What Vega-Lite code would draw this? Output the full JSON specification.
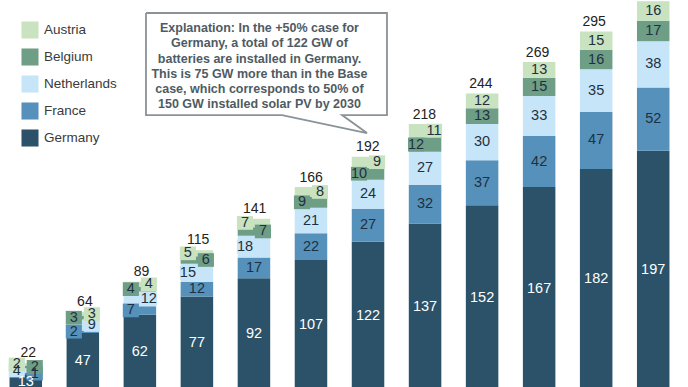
{
  "$schema": "https://vega.github.io/schema/vega-lite/v6.json",
  "width": 679,
  "height": 390,
  "autosize": {"type": "none"},
  "padding": 0,
  "background": "white",
  "config": {"view": {"stroke": null}, "font": "Liberation Sans"},
  "datasets": {
    "seg": [
      {"year": 2019, "country": "Germany", "value": 13}, {"year": 2019, "country": "France", "value": 1}, {"year": 2019, "country": "Netherlands", "value": 4}, {"year": 2019, "country": "Belgium", "value": 2}, {"year": 2019, "country": "Austria", "value": 2},
      {"year": 2020, "country": "Germany", "value": 47}, {"year": 2020, "country": "France", "value": 2}, {"year": 2020, "country": "Netherlands", "value": 9}, {"year": 2020, "country": "Belgium", "value": 3}, {"year": 2020, "country": "Austria", "value": 3},
      {"year": 2021, "country": "Germany", "value": 62}, {"year": 2021, "country": "France", "value": 7}, {"year": 2021, "country": "Netherlands", "value": 12}, {"year": 2021, "country": "Belgium", "value": 4}, {"year": 2021, "country": "Austria", "value": 4},
      {"year": 2022, "country": "Germany", "value": 77}, {"year": 2022, "country": "France", "value": 12}, {"year": 2022, "country": "Netherlands", "value": 15}, {"year": 2022, "country": "Belgium", "value": 6}, {"year": 2022, "country": "Austria", "value": 5},
      {"year": 2023, "country": "Germany", "value": 92}, {"year": 2023, "country": "France", "value": 17}, {"year": 2023, "country": "Netherlands", "value": 18}, {"year": 2023, "country": "Belgium", "value": 7}, {"year": 2023, "country": "Austria", "value": 7},
      {"year": 2024, "country": "Germany", "value": 107}, {"year": 2024, "country": "France", "value": 22}, {"year": 2024, "country": "Netherlands", "value": 21}, {"year": 2024, "country": "Belgium", "value": 9}, {"year": 2024, "country": "Austria", "value": 8},
      {"year": 2025, "country": "Germany", "value": 122}, {"year": 2025, "country": "France", "value": 27}, {"year": 2025, "country": "Netherlands", "value": 24}, {"year": 2025, "country": "Belgium", "value": 10}, {"year": 2025, "country": "Austria", "value": 9},
      {"year": 2026, "country": "Germany", "value": 137}, {"year": 2026, "country": "France", "value": 32}, {"year": 2026, "country": "Netherlands", "value": 27}, {"year": 2026, "country": "Belgium", "value": 12}, {"year": 2026, "country": "Austria", "value": 11},
      {"year": 2027, "country": "Germany", "value": 152}, {"year": 2027, "country": "France", "value": 37}, {"year": 2027, "country": "Netherlands", "value": 30}, {"year": 2027, "country": "Belgium", "value": 13}, {"year": 2027, "country": "Austria", "value": 12},
      {"year": 2028, "country": "Germany", "value": 167}, {"year": 2028, "country": "France", "value": 42}, {"year": 2028, "country": "Netherlands", "value": 33}, {"year": 2028, "country": "Belgium", "value": 15}, {"year": 2028, "country": "Austria", "value": 13},
      {"year": 2029, "country": "Germany", "value": 182}, {"year": 2029, "country": "France", "value": 47}, {"year": 2029, "country": "Netherlands", "value": 35}, {"year": 2029, "country": "Belgium", "value": 16}, {"year": 2029, "country": "Austria", "value": 15},
      {"year": 2030, "country": "Germany", "value": 197}, {"year": 2030, "country": "France", "value": 52}, {"year": 2030, "country": "Netherlands", "value": 38}, {"year": 2030, "country": "Belgium", "value": 17}, {"year": 2030, "country": "Austria", "value": 16}
    ],
    "tot": [
      {"year": 2019, "total": 22}, {"year": 2020, "total": 64}, {"year": 2021, "total": 89}, {"year": 2022, "total": 115},
      {"year": 2023, "total": 141}, {"year": 2024, "total": 166}, {"year": 2025, "total": 192}, {"year": 2026, "total": 218},
      {"year": 2027, "total": 244}, {"year": 2028, "total": 269}, {"year": 2029, "total": 295}, {"year": 2030, "total": 320}
    ],
    "outline": [
      {"k": 3.105, "gw": 310.3, "o": 1}, {"k": 7.333, "gw": 310.3, "o": 2}, {"k": 7.333, "gw": 226.3, "o": 3},
      {"k": 6.544, "gw": 226.3, "o": 4}, {"k": 6.982, "gw": 211.5, "o": 5}, {"k": 5.491, "gw": 226.3, "o": 6},
      {"k": 3.105, "gw": 226.3, "o": 7}, {"k": 3.105, "gw": 310.3, "o": 8}
    ],
    "note": [
      {"k": 5.096, "gw": 298.0, "text": ["Explanation: In the +50% case for", "Germany, a total of 122 GW of", "batteries are installed in Germany.", "This is 75 GW more than in the Base", "case, which corresponds to 50% of", "150 GW installed solar PV by 2030"]}
    ]
  },
  "resolve": {"scale": {"x": "independent"}},
  "layer": [
    {
      "data": {"name": "seg"},
      "transform": [
        {"calculate": "indexof(['Germany','France','Netherlands','Belgium','Austria'], datum.country)", "as": "ord"},
        {"stack": "value", "groupby": ["year"], "sort": [{"field": "ord", "order": "ascending"}], "as": ["v0", "v1"]},
        {"calculate": "(datum.v0 + datum.v1) / 2", "as": "mid"},
        {"calculate": "((datum.country=='Belgium' && indexof([2020,2021,2024,2025,2026],datum.year)>=0) || (datum.country=='Austria' && indexof([2019,2022,2023],datum.year)>=0) || (datum.country=='France' && indexof([2020,2021],datum.year)>=0) || (datum.country=='Netherlands' && indexof([2019,2022,2023],datum.year)>=0)) ? 'L' : (((datum.country=='Austria' && indexof([2020,2021,2024,2025,2026],datum.year)>=0) || (datum.country=='Belgium' && indexof([2019,2022,2023],datum.year)>=0) || (datum.country=='Netherlands' && indexof([2020,2021],datum.year)>=0) || (datum.country=='France' && datum.year==2019)) ? 'R' : 'C')", "as": "side"}
      ],
      "encoding": {
        "x": {"field": "year", "type": "ordinal", "axis": null, "scale": {"paddingInner": 0.43, "paddingOuter": 0.167}}
      },
      "layer": [
        {
          "mark": {"type": "bar"},
          "encoding": {
            "y": {"field": "v0", "type": "quantitative", "axis": null, "scale": {"domain": [0, 321], "nice": false}},
            "y2": {"field": "v1"},
            "color": {
              "field": "country", "type": "nominal",
              "scale": {"domain": ["Austria", "Belgium", "Netherlands", "France", "Germany"], "range": ["#c9e2bf", "#6f9e86", "#c7e5f8", "#5591ba", "#2b5268"]},
              "legend": {"orient": "none", "legendX": 21, "legendY": 21, "title": null, "symbolType": "square", "symbolSize": 290, "symbolStrokeWidth": 0, "symbolOpacity": 1, "labelFontSize": 13.5, "labelColor": "#3a3a3a", "rowPadding": 9, "labelOffset": 5, "labelFont": "Liberation Sans"}
            }
          }
        },
        {
          "transform": [{"filter": "datum.side == 'L'"}],
          "mark": {"type": "point", "filled": true, "opacity": 1, "strokeWidth": 0, "xOffset": -9, "shape": "M-1,-0.85H1V0.85H-1Z", "size": 260},
          "encoding": {
            "y": {"field": "mid", "type": "quantitative", "scale": {"domain": [0, 321], "nice": false}},
            "color": {"field": "country", "type": "nominal"}
          }
        },
        {
          "transform": [{"filter": "datum.side == 'R'"}],
          "mark": {"type": "point", "filled": true, "opacity": 1, "strokeWidth": 0, "xOffset": 9, "shape": "M-1,-0.85H1V0.85H-1Z", "size": 260},
          "encoding": {
            "y": {"field": "mid", "type": "quantitative", "scale": {"domain": [0, 321], "nice": false}},
            "color": {"field": "country", "type": "nominal"}
          }
        },
        {
          "transform": [{"filter": "datum.side == 'C'"}],
          "mark": {"type": "text", "fontSize": 14.5, "baseline": "middle", "align": "center"},
          "encoding": {
            "y": {"field": "mid", "type": "quantitative", "scale": {"domain": [0, 321], "nice": false}},
            "text": {"field": "value"},
            "color": {"condition": {"test": "datum.country == 'Germany'", "value": "#ffffff"}, "value": "#1f3040"}
          }
        },
        {
          "transform": [{"filter": "datum.side == 'L'"}],
          "mark": {"type": "text", "fontSize": 14.5, "baseline": "middle", "align": "center", "dx": -9},
          "encoding": {
            "y": {"field": "mid", "type": "quantitative", "scale": {"domain": [0, 321], "nice": false}},
            "text": {"field": "value"},
            "color": {"condition": {"test": "datum.country == 'Germany'", "value": "#ffffff"}, "value": "#1f3040"}
          }
        },
        {
          "transform": [{"filter": "datum.side == 'R'"}],
          "mark": {"type": "text", "fontSize": 14.5, "baseline": "middle", "align": "center", "dx": 9},
          "encoding": {
            "y": {"field": "mid", "type": "quantitative", "scale": {"domain": [0, 321], "nice": false}},
            "text": {"field": "value"},
            "color": {"condition": {"test": "datum.country == 'Germany'", "value": "#ffffff"}, "value": "#1f3040"}
          }
        }
      ]
    },
    {
      "data": {"name": "tot"},
      "mark": {"type": "text", "fontSize": 14, "baseline": "bottom", "align": "center", "dy": -3, "color": "#222222"},
      "encoding": {
        "x": {"field": "year", "type": "ordinal", "axis": null, "scale": {"paddingInner": 0.43, "paddingOuter": 0.167}},
        "y": {"field": "total", "type": "quantitative", "scale": {"domain": [0, 321], "nice": false}},
        "text": {"field": "total"}
      }
    },
    {
      "data": {"name": "outline"},
      "mark": {"type": "line", "color": "#8a9398", "strokeWidth": 1.8},
      "encoding": {
        "x": {"field": "k", "type": "quantitative", "axis": null, "scale": {"domain": [0.544, 12.456], "nice": false, "zero": false}},
        "y": {"field": "gw", "type": "quantitative", "scale": {"domain": [0, 321], "nice": false}},
        "order": {"field": "o"}
      }
    },
    {
      "data": {"name": "note"},
      "mark": {"type": "text", "fontSize": 12.5, "fontWeight": "bold", "lineHeight": 15.3, "align": "center", "baseline": "middle", "color": "#4f5b63"},
      "encoding": {
        "x": {"field": "k", "type": "quantitative", "axis": null, "scale": {"domain": [0.544, 12.456], "nice": false, "zero": false}},
        "y": {"field": "gw", "type": "quantitative", "scale": {"domain": [0, 321], "nice": false}},
        "text": {"field": "text"}
      }
    }
  ]
}
